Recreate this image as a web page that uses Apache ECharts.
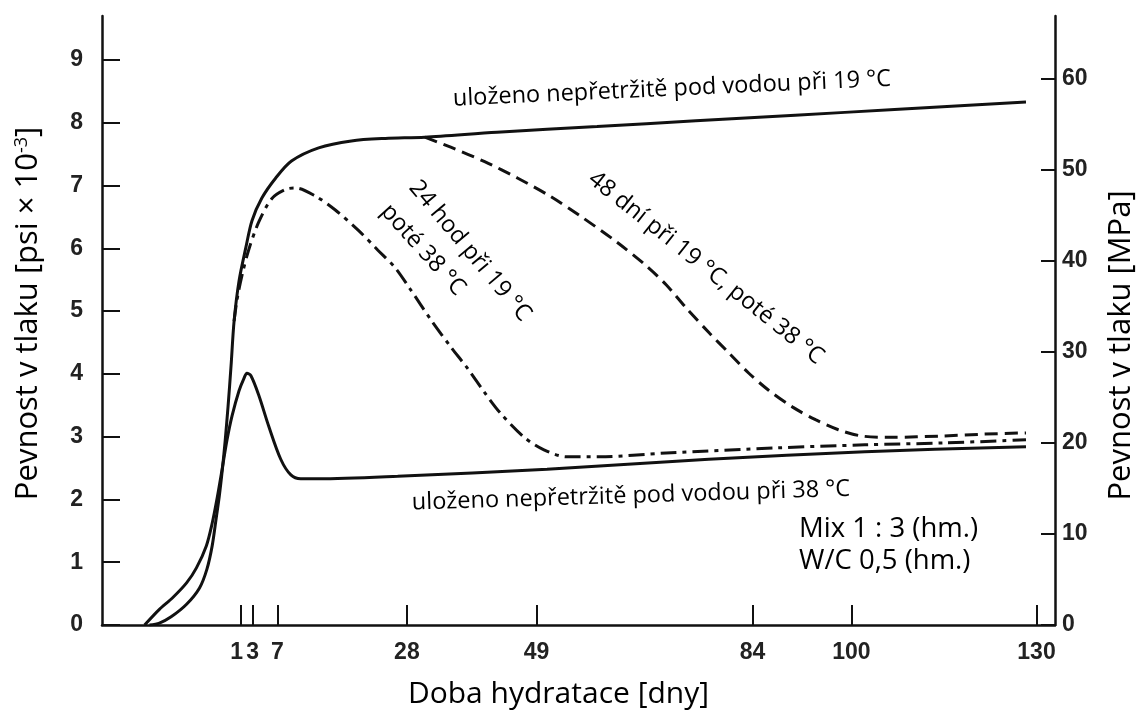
<!DOCTYPE html>
<html>
<head>
<meta charset="utf-8">
<title>Pevnost v tlaku – doba hydratace</title>
<script src="https://cdn.jsdelivr.net/npm/echarts@6/dist/echarts.min.js"></script>
<style>
  html, body { margin: 0; padding: 0; background: #fff; }
  #chart { width: 1145px; height: 715px; }
</style>
</head>
<body>
<div id="chart"></div>
<script>
// tick labels
const dayTicks = [1, 3, 7, 28, 49, 84, 100, 130];
const psiTicks = [0, 1, 2, 3, 4, 5, 6, 7, 8, 9];
const mpaTicks = [0, 10, 20, 30, 40, 50, 60];

// x in days; the first hours are drawn left of the "1" tick as in the source figure
// uloženo nepřetržitě pod vodou při 19 °C
const water19Days = [-13.7, -12.1, -10.2, -7.7, -5.6, -4.4, -3.55, -2.9, -2.4, -1.9, -1.45, -0.97, -0.49, 0, 0.8, 1.9, 2.9, 4.5, 6.75, 9.3, 13.7, 19, 24.5, 30.9, 42.6, 58.8, 74.8, 90.9, 107, 128.3];
const water19Psi = [0, 0.03, 0.13, 0.33, 0.59, 0.89, 1.26, 1.70, 2.05, 2.48, 2.93, 3.49, 4.13, 4.84, 5.48, 6.01, 6.44, 6.80, 7.12, 7.39, 7.60, 7.71, 7.75, 7.77, 7.85, 7.94, 8.03, 8.12, 8.21, 8.33];

// uloženo nepřetržitě pod vodou při 38 °C
const water38Days = [-14.5, -12.1, -10, -7.7, -6.1, -4.5, -3.55, -2.75, -1.94, -1.14, -0.33, 0.8, 1.6, 2.08, 2.73, 4.0, 5.6, 7.56, 9.2, 10.8, 13.7, 26.5, 50.7, 76.9, 102.2, 128.3];
const water38Psi = [0, 0.25, 0.43, 0.67, 0.91, 1.26, 1.62, 2.02, 2.48, 2.95, 3.33, 3.73, 3.93, 4.01, 3.97, 3.66, 3.17, 2.64, 2.39, 2.33, 2.33, 2.37, 2.48, 2.64, 2.76, 2.84];

// 24 hod při 19 °C, poté 38 °C
const hours24Days = [0, 0.47, 1.28, 2.41, 4.0, 6.1, 8.4, 10, 13.2, 16.4, 20.1, 23.3, 26.1, 28.6, 31.9, 35.1, 37.8, 40.6, 43.1, 47, 50.2, 53.9, 59.2, 70, 87.7, 102.2, 115.1, 128.3];
const hours24Psi = [4.84, 5.18, 5.57, 5.99, 6.42, 6.79, 6.94, 6.96, 6.83, 6.61, 6.29, 5.97, 5.69, 5.34, 4.86, 4.43, 4.09, 3.70, 3.38, 2.99, 2.79, 2.68, 2.68, 2.74, 2.82, 2.87, 2.90, 2.95];

// 48 dní při 19 °C, poté 38 °C
const days48Days = [30.9, 35.1, 40.6, 45.9, 51.2, 56.3, 62, 66.8, 70, 73.25, 77, 80.2, 83.4, 86.6, 90.5, 94.2, 97.9, 101.7, 106.6, 114.6, 121.5, 128.3];
const days48Psi = [7.77, 7.61, 7.38, 7.12, 6.83, 6.50, 6.10, 5.72, 5.42, 5.05, 4.65, 4.33, 4.01, 3.74, 3.47, 3.27, 3.11, 3.01, 2.99, 3.01, 3.04, 3.06];

const PSI_MAX = 9.7;
const MPA_PER_KSI = 6.895;

const chart = echarts.init(document.getElementById('chart'));

function pairs(xs, ys) {
  return xs.map((x, i) => [x, ys[i]]);
}

function deg(a) {
  return a * Math.PI / 180;
}

const ink = '#111';
const tickFont = { fontFamily: '"Liberation Sans", Arial, sans-serif', fontSize: 23, fontWeight: 'bold', color: '#222' };
const textFont = '23.5px "Open Sans", sans-serif';

function lineSeries(data, type) {
  return {
    type: 'line',
    data: data,
    yAxisIndex: 0,
    showSymbol: false,
    symbol: 'none',
    smooth: 0.3,
    silent: true,
    lineStyle: { color: ink, width: 3, type: type, cap: 'butt' }
  };
}

function note(text, x, y, rot, font, align) {
  return {
    type: 'text',
    x: x,
    y: y,
    rotation: deg(rot),
    silent: true,
    style: {
      text: text,
      font: font || textFont,
      fill: '#000',
      textAlign: align || 'center',
      align: align || 'center',
      textVerticalAlign: 'middle',
      verticalAlign: 'middle'
    }
  };
}

const option = {
  animation: false,
  backgroundColor: '#fff',
  grid: { left: 102, right: 84, top: 16, bottom: 90 },
  xAxis: {
    type: 'value',
    min: -21.4,
    max: 133,
    name: 'Doba hydratace [dny]',
    nameLocation: 'middle',
    nameGap: 54,
    nameTextStyle: { fontFamily: '"Open Sans", sans-serif', fontSize: 30, color: '#000', padding: [0, 40, 0, 0] },
    axisLine: { onZero: false, lineStyle: { color: ink, width: 2.5 } },
    axisTick: { customValues: dayTicks, inside: true, length: 20, lineStyle: { color: ink, width: 2 } },
    axisLabel: Object.assign({
      customValues: dayTicks,
      margin: 16,
      hideOverlap: false,
      // "1" and "3" sit almost together under their ticks
      formatter: (v) => (v === 1 ? '{one|1}' : String(v)),
      rich: { one: Object.assign({ padding: [0, 7, 0, 0] }, tickFont) }
    }, tickFont),
    splitLine: { show: false }
  },
  yAxis: [
    {
      type: 'value',
      position: 'left',
      min: 0,
      max: PSI_MAX,
      name: 'Pevnost v tlaku [psi × 10{sup|-3}]',
      nameLocation: 'middle',
      nameRotate: 90,
      nameGap: 58,
      nameTextStyle: {
        fontFamily: '"Open Sans", sans-serif', fontSize: 31, color: '#000', padding: [0, 0, 0, 14],
        rich: { sup: { fontFamily: '"Open Sans", sans-serif', fontSize: 18, color: '#000', verticalAlign: 'top' } }
      },
      axisLine: { show: true, onZero: false, lineStyle: { color: ink, width: 2.5 } },
      axisTick: { customValues: psiTicks, inside: true, length: 18, lineStyle: { color: ink, width: 2 } },
      axisLabel: Object.assign({ customValues: psiTicks, margin: 19 }, tickFont),
      splitLine: { show: false }
    },
    {
      type: 'value',
      position: 'right',
      min: 0,
      max: PSI_MAX * MPA_PER_KSI,
      name: 'Pevnost v tlaku [MPa]',
      nameLocation: 'middle',
      nameRotate: 90,
      nameGap: 51,
      nameTextStyle: { fontFamily: '"Open Sans", sans-serif', fontSize: 31, color: '#000', padding: [0, 50, 0, 0] },
      axisLine: { show: true, onZero: false, lineStyle: { color: ink, width: 2.5 } },
      axisTick: { customValues: mpaTicks, inside: true, length: 14, lineStyle: { color: ink, width: 2 } },
      axisLabel: Object.assign({ customValues: mpaTicks, margin: 7 }, tickFont),
      splitLine: { show: false }
    }
  ],
  series: [
    lineSeries(pairs(water19Days, water19Psi), 'solid'),
    lineSeries(pairs(water38Days, water38Psi), 'solid'),
    lineSeries(pairs(hours24Days, hours24Psi), [16, 6, 4, 6]),
    lineSeries(pairs(days48Days, days48Psi), [13, 7])
  ],
  graphic: [
    note('uloženo nepřetržitě pod vodou při 19 °C', 672, 89, 2.6),
    note('uloženo nepřetržitě pod vodou při 38 °C', 631, 496, 1.8),
    note('24 hod při 19 °C', 470, 251, -50),
    note('poté 38 °C', 423, 250, -48),
    note('48 dní při 19 °C, poté 38 °C', 706, 268, -38.6),
    note('Mix 1 : 3 (hm.)', 799, 529, 0, '27.5px "Open Sans", sans-serif', 'left'),
    note('W/C 0,5 (hm.)', 799, 561, 0, '27.5px "Open Sans", sans-serif', 'left')
  ]
};

chart.setOption(option);

window.addEventListener('resize', () => chart.resize());
</script>
</body>
</html>
